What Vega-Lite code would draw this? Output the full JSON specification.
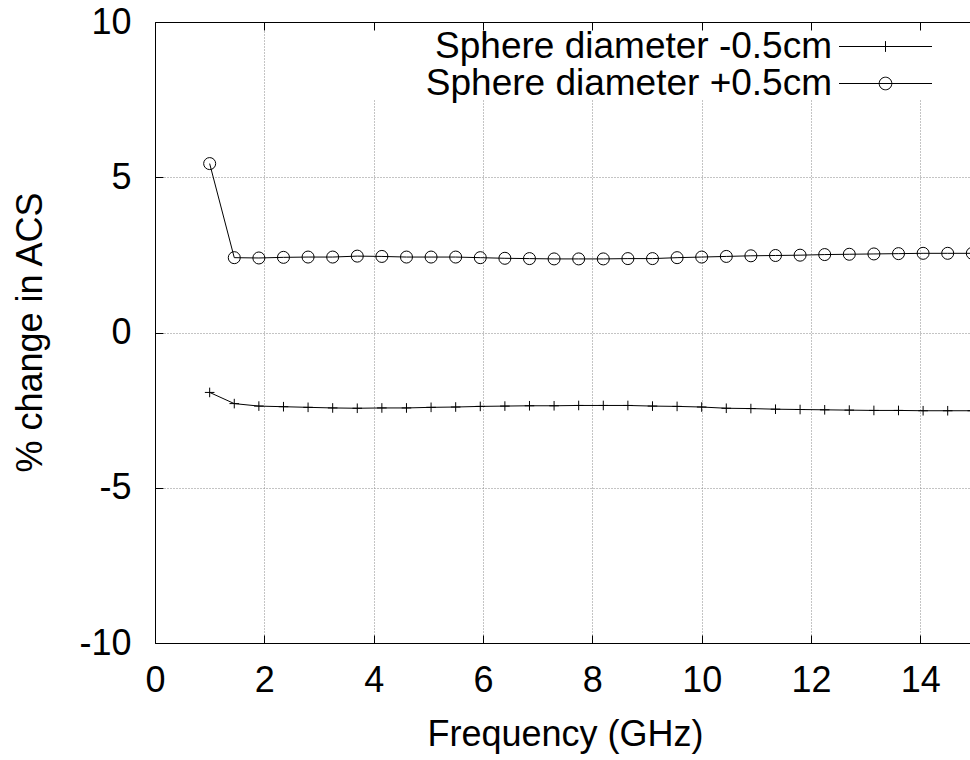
{
  "$schema": "https://vega.github.io/schema/vega-lite/v6.json",
  "width": 815,
  "height": 621,
  "autosize": {"type": "none"},
  "padding": {"left": 155, "top": 22, "right": 0, "bottom": 117},
  "background": "white",
  "config": {
    "view": {"stroke": null},
    "font": "Liberation Sans",
    "axis": {
      "labelFont": "Liberation Sans",
      "labelFontSize": 36,
      "labelColor": "black",
      "labelFlush": false,
      "labelOverlap": false,
      "labelExpr": "'' + datum.value",
      "titleFont": "Liberation Sans",
      "titleFontSize": 36,
      "titleFontWeight": "normal",
      "titleColor": "black",
      "domainColor": "black",
      "domainWidth": 1,
      "tickColor": "black",
      "tickWidth": 1,
      "gridColor": "#888888",
      "gridDash": [1, 2],
      "gridWidth": 1,
      "gridOpacity": 1
    },
    "legend": {
      "labelFont": "Liberation Sans",
      "labelFontSize": 37,
      "labelColor": "black",
      "labelLimit": 0
    }
  },
  "data": {
    "values": [
      {"f": 1.0, "v": -1.93, "s": "Sphere diameter -0.5cm"},
      {"f": 1.45, "v": -2.29, "s": "Sphere diameter -0.5cm"},
      {"f": 1.9, "v": -2.37, "s": "Sphere diameter -0.5cm"},
      {"f": 2.35, "v": -2.39, "s": "Sphere diameter -0.5cm"},
      {"f": 2.8, "v": -2.41, "s": "Sphere diameter -0.5cm"},
      {"f": 3.25, "v": -2.43, "s": "Sphere diameter -0.5cm"},
      {"f": 3.7, "v": -2.44, "s": "Sphere diameter -0.5cm"},
      {"f": 4.15, "v": -2.43, "s": "Sphere diameter -0.5cm"},
      {"f": 4.6, "v": -2.43, "s": "Sphere diameter -0.5cm"},
      {"f": 5.05, "v": -2.41, "s": "Sphere diameter -0.5cm"},
      {"f": 5.5, "v": -2.4, "s": "Sphere diameter -0.5cm"},
      {"f": 5.95, "v": -2.38, "s": "Sphere diameter -0.5cm"},
      {"f": 6.4, "v": -2.37, "s": "Sphere diameter -0.5cm"},
      {"f": 6.85, "v": -2.36, "s": "Sphere diameter -0.5cm"},
      {"f": 7.3, "v": -2.36, "s": "Sphere diameter -0.5cm"},
      {"f": 7.75, "v": -2.35, "s": "Sphere diameter -0.5cm"},
      {"f": 8.2, "v": -2.35, "s": "Sphere diameter -0.5cm"},
      {"f": 8.65, "v": -2.35, "s": "Sphere diameter -0.5cm"},
      {"f": 9.1, "v": -2.37, "s": "Sphere diameter -0.5cm"},
      {"f": 9.55, "v": -2.38, "s": "Sphere diameter -0.5cm"},
      {"f": 10.0, "v": -2.4, "s": "Sphere diameter -0.5cm"},
      {"f": 10.45, "v": -2.44, "s": "Sphere diameter -0.5cm"},
      {"f": 10.9, "v": -2.45, "s": "Sphere diameter -0.5cm"},
      {"f": 11.35, "v": -2.47, "s": "Sphere diameter -0.5cm"},
      {"f": 11.8, "v": -2.48, "s": "Sphere diameter -0.5cm"},
      {"f": 12.25, "v": -2.49, "s": "Sphere diameter -0.5cm"},
      {"f": 12.7, "v": -2.5, "s": "Sphere diameter -0.5cm"},
      {"f": 13.15, "v": -2.51, "s": "Sphere diameter -0.5cm"},
      {"f": 13.6, "v": -2.51, "s": "Sphere diameter -0.5cm"},
      {"f": 14.05, "v": -2.52, "s": "Sphere diameter -0.5cm"},
      {"f": 14.5, "v": -2.52, "s": "Sphere diameter -0.5cm"},
      {"f": 14.95, "v": -2.52, "s": "Sphere diameter -0.5cm"},
      {"f": 1.0, "v": 5.44, "s": "Sphere diameter +0.5cm"},
      {"f": 1.45, "v": 2.41, "s": "Sphere diameter +0.5cm"},
      {"f": 1.9, "v": 2.4, "s": "Sphere diameter +0.5cm"},
      {"f": 2.35, "v": 2.42, "s": "Sphere diameter +0.5cm"},
      {"f": 2.8, "v": 2.43, "s": "Sphere diameter +0.5cm"},
      {"f": 3.25, "v": 2.43, "s": "Sphere diameter +0.5cm"},
      {"f": 3.7, "v": 2.46, "s": "Sphere diameter +0.5cm"},
      {"f": 4.15, "v": 2.45, "s": "Sphere diameter +0.5cm"},
      {"f": 4.6, "v": 2.43, "s": "Sphere diameter +0.5cm"},
      {"f": 5.05, "v": 2.43, "s": "Sphere diameter +0.5cm"},
      {"f": 5.5, "v": 2.43, "s": "Sphere diameter +0.5cm"},
      {"f": 5.95, "v": 2.41, "s": "Sphere diameter +0.5cm"},
      {"f": 6.4, "v": 2.39, "s": "Sphere diameter +0.5cm"},
      {"f": 6.85, "v": 2.38, "s": "Sphere diameter +0.5cm"},
      {"f": 7.3, "v": 2.37, "s": "Sphere diameter +0.5cm"},
      {"f": 7.75, "v": 2.37, "s": "Sphere diameter +0.5cm"},
      {"f": 8.2, "v": 2.37, "s": "Sphere diameter +0.5cm"},
      {"f": 8.65, "v": 2.38, "s": "Sphere diameter +0.5cm"},
      {"f": 9.1, "v": 2.38, "s": "Sphere diameter +0.5cm"},
      {"f": 9.55, "v": 2.41, "s": "Sphere diameter +0.5cm"},
      {"f": 10.0, "v": 2.43, "s": "Sphere diameter +0.5cm"},
      {"f": 10.45, "v": 2.45, "s": "Sphere diameter +0.5cm"},
      {"f": 10.9, "v": 2.47, "s": "Sphere diameter +0.5cm"},
      {"f": 11.35, "v": 2.48, "s": "Sphere diameter +0.5cm"},
      {"f": 11.8, "v": 2.49, "s": "Sphere diameter +0.5cm"},
      {"f": 12.25, "v": 2.51, "s": "Sphere diameter +0.5cm"},
      {"f": 12.7, "v": 2.52, "s": "Sphere diameter +0.5cm"},
      {"f": 13.15, "v": 2.53, "s": "Sphere diameter +0.5cm"},
      {"f": 13.6, "v": 2.54, "s": "Sphere diameter +0.5cm"},
      {"f": 14.05, "v": 2.55, "s": "Sphere diameter +0.5cm"},
      {"f": 14.5, "v": 2.55, "s": "Sphere diameter +0.5cm"},
      {"f": 14.95, "v": 2.55, "s": "Sphere diameter +0.5cm"}
    ]
  },
  "layer": [
    {
      "mark": {"type": "rect", "fill": "white", "clip": true},
      "encoding": {
        "x": {
          "datum": 3.7,
          "type": "quantitative",
          "scale": {"domain": [0, 14.908], "nice": false, "zero": false},
          "axis": {
            "orient": "top",
            "labels": false,
            "grid": false,
            "ticks": true,
            "tickSize": -8,
            "domain": true,
            "title": null,
            "values": [0, 2, 4, 6, 8, 10, 12, 14],
            "zindex": 1
          }
        },
        "x2": {"datum": 15},
        "y": {
          "datum": 7.5,
          "type": "quantitative",
          "scale": {"domain": [-10, 10], "nice": false, "zero": false},
          "axis": {
            "orient": "left",
            "values": [-10, -5, 0, 5, 10],
            "tickSize": -8,
            "labelPadding": 32,
            "grid": true,
            "title": "% change in ACS",
            "titleAngle": -90,
            "titleX": -114,
            "titleY": 310,
            "titleBaseline": "alphabetic",
            "titleAlign": "center",
            "zindex": 0
          }
        },
        "y2": {"datum": 10}
      }
    },
    {
      "mark": {"type": "line", "color": "black", "strokeWidth": 1, "clip": true},
      "encoding": {
        "x": {
          "field": "f",
          "type": "quantitative",
          "axis": {
            "orient": "bottom",
            "values": [0, 2, 4, 6, 8, 10, 12, 14],
            "tickSize": -8,
            "labelPadding": 28,
            "grid": true,
            "title": "Frequency (GHz)",
            "titleX": 410,
            "titleY": 102,
            "titleBaseline": "alphabetic",
            "titleAnchor": "middle",
            "zindex": 0
          }
        },
        "y": {"field": "v", "type": "quantitative", "title": "% change in ACS"},
        "detail": {"field": "s"}
      }
    },
    {
      "mark": {"type": "point", "filled": false, "stroke": "black", "strokeWidth": 1, "size": 144, "opacity": 1},
      "encoding": {
        "x": {"field": "f", "type": "quantitative", "axis": null},
        "y": {"field": "v", "type": "quantitative", "title": "% change in ACS"},
        "shape": {
          "field": "s",
          "type": "nominal",
          "scale": {
            "domain": ["Sphere diameter -0.5cm", "Sphere diameter +0.5cm"],
            "range": ["M-0.8,0H0.8M0,-0.8V0.8", "circle"]
          },
          "legend": null
        }
      }
    },
    {
      "transform": [{"filter": "false"}],
      "mark": {"type": "point", "filled": false, "stroke": "black", "strokeWidth": 1, "size": 144, "opacity": 1},
      "encoding": {
        "x": {"field": "f", "type": "quantitative", "axis": null},
        "y": {"field": "v", "type": "quantitative", "title": "% change in ACS"},
        "shape": {
          "field": "s",
          "type": "nominal",
          "scale": {
            "domain": ["Sphere diameter -0.5cm", "Sphere diameter +0.5cm"],
            "range": [
              "M-7.75,0H7.75M0,-0.9V0.9",
              "M-7.75,0H7.75M1.05,0A1.05,1.05,0,1,1,-1.05,0A1.05,1.05,0,1,1,1.05,0"
            ]
          },
          "legend": {
            "title": null,
            "orient": "none",
            "legendX": 712,
            "legendY": 6,
            "padding": 0,
            "symbolSize": 144,
            "symbolStrokeWidth": 1,
            "symbolStrokeColor": "black",
            "symbolFillColor": "transparent",
            "labelAlign": "right",
            "labelBaseline": "middle",
            "labelOffset": -72,
            "rowPadding": -1
          }
        }
      }
    }
  ],
  "resolve": {
    "axis": {"x": "independent"},
    "scale": {"shape": "independent"},
    "legend": {"shape": "independent"}
  }
}
